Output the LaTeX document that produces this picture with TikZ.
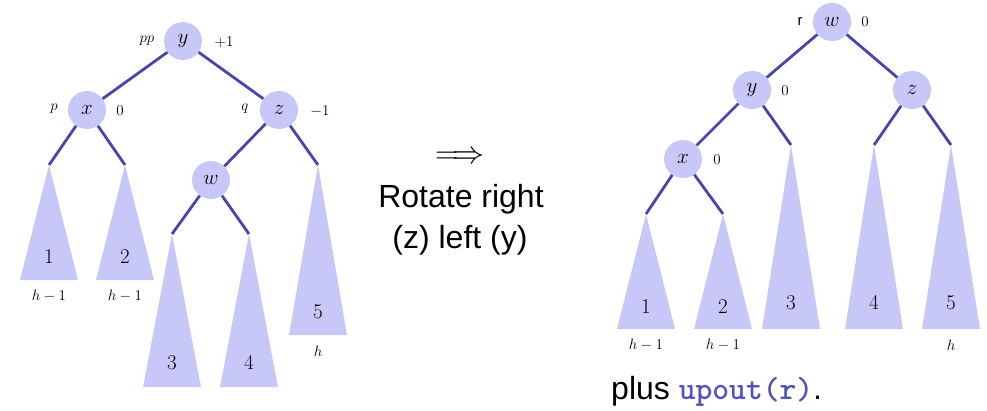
\RequirePackage{fix-cm}
\documentclass[tikz,border=0pt]{standalone}
\usepackage{fontspec}
\setmainfont{Liberation Sans}
\definecolor{lav}{RGB}{200,200,248}
\definecolor{edgec}{RGB}{70,70,172}
\definecolor{codec}{RGB}{82,82,184}
\newcommand\mysubtree[6]{% name, x, apex y, base y, label, label y
  \coordinate (#1) at (#2,#3);
  \fill[lav] (#1) -- ++(-29,#4-#3) -- ++(58,0) -- cycle;
  \node[tlab] (#1l) at (#2,#6) {$#5$};
}
\begin{document}
\begin{tikzpicture}[x=1pt,y=-1pt,
  tnode/.style={circle, fill=lav, minimum size=38pt, inner sep=0pt, font=\fontsize{21}{21}\selectfont},
  tlab/.style={inner sep=0pt, font=\fontsize{21}{21}\selectfont},
  lab/.style={inner sep=0pt, font=\fontsize{15}{15}\selectfont},
  edge/.style={draw=edgec, line width=2.8pt},
  big/.style={inner sep=0pt, font=\fontsize{32}{32}\selectfont}]
\useasboundingbox (0,0) rectangle (987,410);
% ---------- left tree ----------
\mysubtree{a1}{49}{165}{280}{1}{257}
\mysubtree{a2}{125}{165}{280}{2}{257}
\mysubtree{a3}{172}{234}{387}{3}{363}
\mysubtree{a4}{249}{234}{387}{4}{363}
\mysubtree{a5}{318}{165}{335}{5}{312}
\node[tnode] (ly) at (183,41) {$y$};
\node[tnode] (lx) at (87,110) {$x$};
\node[tnode] (lz) at (279,110) {$z$};
\node[tnode] (lw) at (211,180) {$w$};
\draw[edge] (ly) -- (lx);
\draw[edge] (ly) -- (lz);
\draw[edge] (lx) -- (a1);
\draw[edge] (lx) -- (a2);
\draw[edge] (lz) -- (lw);
\draw[edge] (lz) -- (a5);
\draw[edge] (lw) -- (a3);
\draw[edge] (lw) -- (a4);
\node[lab] (lpp) at (147,41) {$pp$};
\node[lab] (lyb) at (224,42) {$+1$};
\node[lab] (lp) at (54,109) {$p$};
\node[lab] (lxb) at (120,111) {$0$};
\node[lab] (lq) at (245,109) {$q$};
\node[lab] (lzb) at (320,111) {$-1$};
\node[lab] (lh1) at (49,296) {$h-1$};
\node[lab] (lh2) at (125,296) {$h-1$};
\node[lab] (lh5) at (318,351) {$h$};
% ---------- middle ----------
\node[inner sep=0pt, font=\fontsize{32}{32}\selectfont] (arr) at (460,158) {$\Longrightarrow$};
\node[big, anchor=base] (t1) at (461,207) {Rotate right};
\node[big, anchor=base] (t2) at (460,248) {(z) left (y)};
% ---------- right tree ----------
\mysubtree{b1}{646}{214}{329}{1}{307}
\mysubtree{b2}{723}{214}{329}{2}{307}
\mysubtree{b3}{791}{145}{329}{3}{303}
\mysubtree{b4}{874}{145}{329}{4}{303}
\mysubtree{b5}{951}{145}{329}{5}{303}
\node[tnode] (rw) at (832,22) {$w$};
\node[tnode] (ry) at (752,90) {$y$};
\node[tnode] (rz) at (912,90) {$z$};
\node[tnode] (rx) at (683,159) {$x$};
\draw[edge] (rw) -- (ry);
\draw[edge] (rw) -- (rz);
\draw[edge] (ry) -- (rx);
\draw[edge] (ry) -- (b3);
\draw[edge] (rz) -- (b4);
\draw[edge] (rz) -- (b5);
\draw[edge] (rx) -- (b1);
\draw[edge] (rx) -- (b2);
\node[lab] (rr) at (800,21) {r};
\node[lab] (rwb) at (865,22) {$0$};
\node[lab] (ryb) at (785,91) {$0$};
\node[lab] (rxb) at (717,160) {$0$};
\node[lab] (rh1) at (646,345) {$h-1$};
\node[lab] (rh2) at (723,345) {$h-1$};
\node[lab] (rh5) at (951,345) {$h$};
\node[big, anchor=base west] (t3) at (611,399) {plus \textcolor{codec}{\ttfamily\bfseries upout(r)}.};
\end{tikzpicture}
\end{document}
